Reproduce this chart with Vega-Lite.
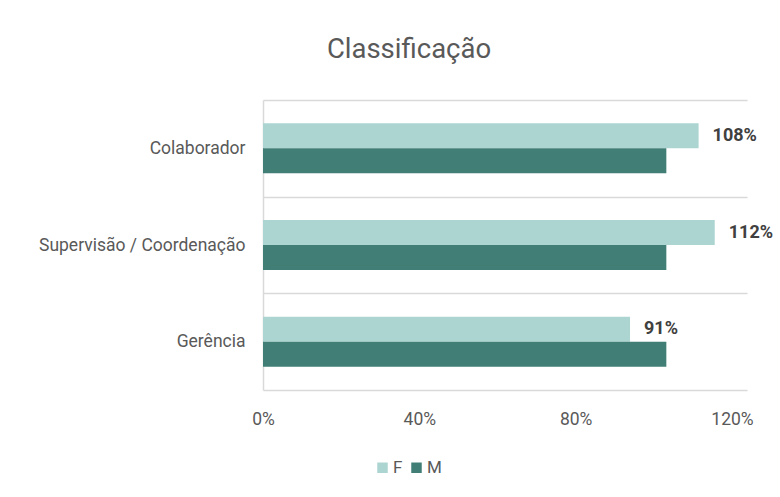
{
  "$schema": "https://vega.github.io/schema/vega-lite/v6.json",
  "width": 484,
  "height": 290,
  "padding": {"left": 38, "top": 36, "right": 0, "bottom": 0},
  "background": "white",
  "title": {"text": "Classificação", "fontSize": 27.5, "font": "Roboto", "fontWeight": "normal", "color": "#595959", "anchor": "middle", "dx": -96, "offset": 27.5},
  "config": {"view": {"stroke": null}, "font": "Roboto"},
  "data": {"values": [
    {"cat": "Colaborador", "sex": "F", "value": 1.08, "label": "108%"},
    {"cat": "Colaborador", "sex": "M", "value": 1.0, "label": ""},
    {"cat": "Supervisão / Coordenação", "sex": "F", "value": 1.12, "label": "112%"},
    {"cat": "Supervisão / Coordenação", "sex": "M", "value": 1.0, "label": ""},
    {"cat": "Gerência", "sex": "F", "value": 0.91, "label": "91%"},
    {"cat": "Gerência", "sex": "M", "value": 1.0, "label": ""}
  ]},
  "encoding": {
    "y": {"field": "cat", "type": "nominal", "sort": ["Colaborador", "Supervisão / Coordenação", "Gerência"],
      "scale": {"paddingInner": 0, "paddingOuter": 0},
      "axis": {"title": null, "grid": true, "tickBand": "extent", "gridColor": "#D9D9D9", "gridWidth": 1.5,
        "domain": true, "domainColor": "#D9D9D9", "domainWidth": 1.5, "ticks": false, "labelPadding": 18, "labelLimit": 300,
        "labelFontSize": 17.5, "labelColor": "#595959", "labelFont": "Roboto"}},
    "yOffset": {"field": "sex", "type": "nominal", "sort": ["F", "M"], "scale": {"paddingInner": 0, "paddingOuter": 0.935}},
    "x": {"field": "value", "type": "quantitative", "scale": {"domain": [0, 1.2], "nice": false},
      "axis": {"title": null, "format": ".0%", "values": [0, 0.4, 0.8, 1.2], "grid": false, "domain": false, "ticks": false,
        "labelFlush": false, "labelOffset": {"expr": "-datum.value * 12.5"},
        "labelPadding": 20, "labelFontSize": 17.5, "labelColor": "#595959", "labelFont": "Roboto"}}
  },
  "layer": [
    {"mark": {"type": "bar"},
     "encoding": {"color": {"field": "sex", "type": "nominal", "sort": ["F", "M"],
       "scale": {"domain": ["F", "M"], "range": ["#ACD5D1", "#417E76"]},
       "legend": {"title": null, "orient": "none", "legendX": 111, "legendY": 359, "direction": "horizontal",
         "symbolType": "square", "symbolSize": 110, "symbolStrokeWidth": 0, "labelFontSize": 17, "labelColor": "#595959",
         "labelFont": "Roboto", "columnPadding": 5, "labelOffset": 2}}}},
    {"mark": {"type": "text", "align": "left", "dx": 14, "fontWeight": "bold", "fontSize": 18, "color": "#404040", "font": "Roboto"},
     "encoding": {"text": {"field": "label"}}}
  ]
}
